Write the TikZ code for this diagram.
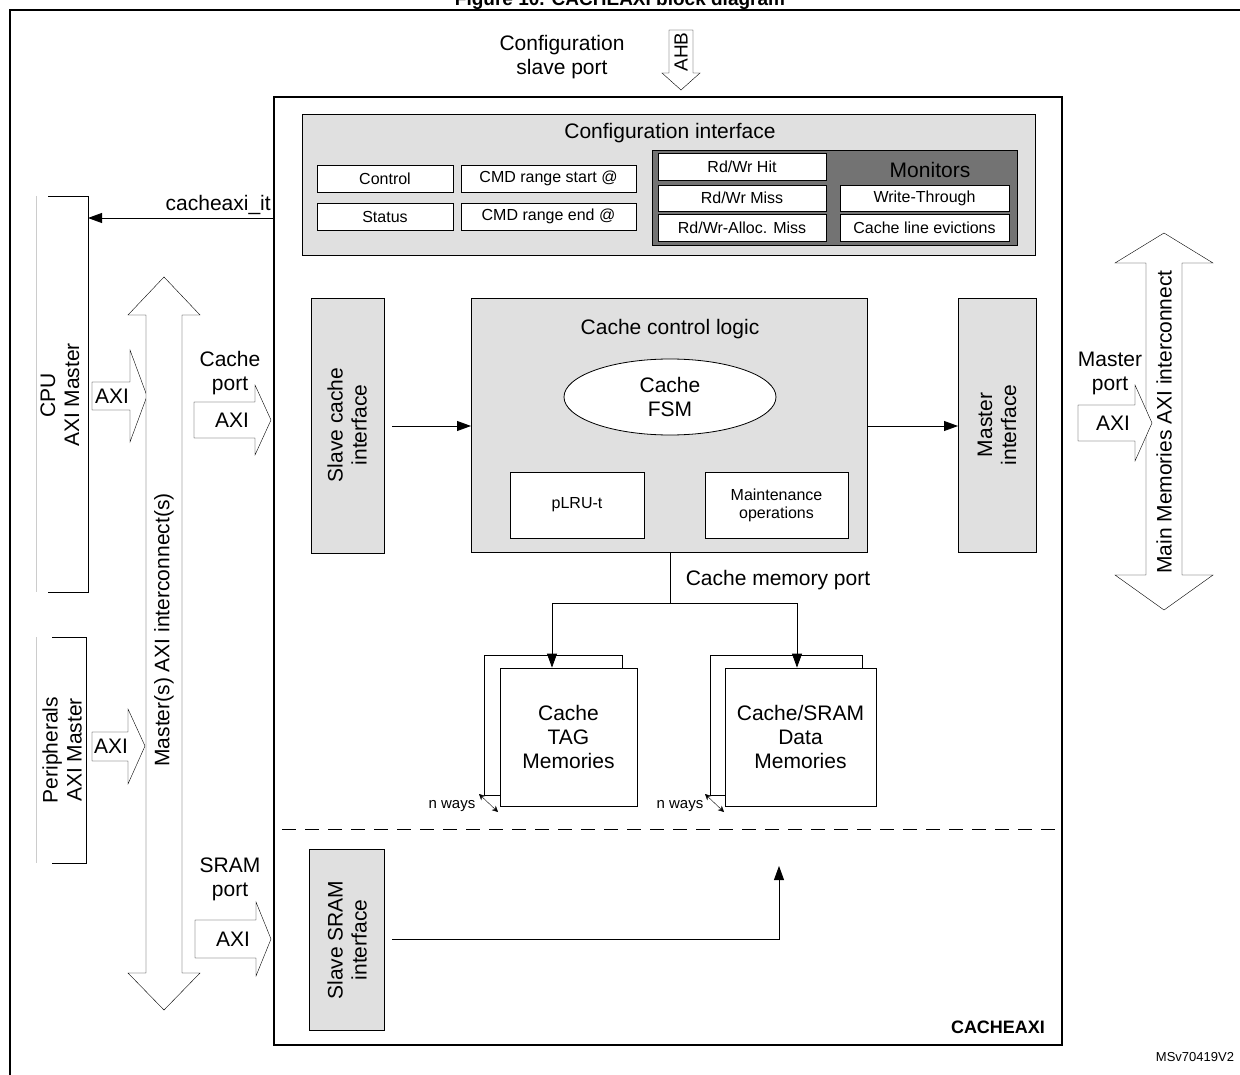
\documentclass[tikz,border=0pt]{standalone}
\usepackage{fontspec}
\setmainfont{Liberation Sans}
\usetikzlibrary{shapes.geometric,shapes.arrows,arrows.meta}
\begin{document}
\begin{tikzpicture}[x=1pt,y=-1pt,
  big/.style={font=\fontsize{21}{24}\selectfont},
  small/.style={font=\fontsize{16}{18}\selectfont},
  gbox/.style={draw,thick,fill=black!12},
  wbox/.style={draw,thick,fill=white,small,inner sep=1pt},
  bus/.style={draw,fill=white},
  arr/.style={-{Triangle[length=14pt,width=10pt]},thick}]
\useasboundingbox (0,0) rectangle (1240,1075);
\clip (0,0) rectangle (1240,1075);
\node[font=\bfseries\fontsize{19}{22}\selectfont] (title) at (620,1) {Figure 10. CACHEAXI block diagram};
\draw[line width=2pt] (10,1090) -- (10,10) -- (1250,10);
% AHB
\draw[bus] (669,30) -- (693,30) -- (693,73) -- (700,73) -- (681,90) -- (662,73) -- (669,73) -- cycle;
\node[rotate=90,font=\fontsize{19}{22}\selectfont] (ahb) at (681,52) {AHB};
\node[big,align=center] (cfgl) at (562,57) {Configuration\\slave port};
% main box
\draw[line width=2pt] (274,97) rectangle (1062,1045);
\node[font=\bfseries\fontsize{18}{20}\selectfont] (cax) at (998,1027) {CACHEAXI};
\draw[gbox] (302,114) rectangle (1035,255);
\node[big] (cfgi) at (670,133) {Configuration interface};
\node[wbox,minimum width=136,minimum height=27] (ctl) at (385,178.5) {Control};
\node[wbox,minimum width=136,minimum height=27] (sts) at (385,216.5) {Status};
\node[wbox,minimum width=175,minimum height=27] (cs) at (548.5,178.5) {CMD range start @};
\node[wbox,minimum width=175,minimum height=27] (ce) at (548.5,216.5) {CMD range end @};
\draw[thick,fill=black!55] (652,150) rectangle (1017,245);
\node[wbox,minimum width=168,minimum height=27] (hit) at (742,167) {Rd/Wr Hit};
\node[wbox,minimum width=168,minimum height=26] (miss) at (742,198) {Rd/Wr Miss};
\node[wbox,minimum width=168,minimum height=27] (am) at (742,228) {Rd/Wr-Alloc. Miss};
\node[big] (mon) at (930,170) {Monitors};
\node[wbox,minimum width=169,minimum height=26] (wt) at (924.5,198) {Write-Through};
\node[wbox,minimum width=169,minimum height=27] (ev) at (924.5,228) {Cache line evictions};
% cacheaxi_it
\coordinate (itS) at (274,218);
\coordinate (itE) at (88,218);
\draw[arr] (itS) -- (itE) node[pos=0.3,above,big] {cacheaxi\_it};
% CPU bracket
\draw[gray!40] (36,196) -- (36,592);
\draw[thick] (48,196) -- (88,196) -- (88,592) -- (48,592);
\node[rotate=90,big,align=center] (cpu) at (60,395) {CPU\\AXI Master};
\draw[gray!40] (36,637) -- (36,863);
\draw[thick] (52,637) -- (86,637) -- (86,863) -- (52,863);
\node[rotate=90,big,align=center] (per) at (62,750) {Peripherals\\AXI Master};
% small AXI arrows
\draw[bus] (92,382) -- (130,382) -- (130,350) -- (147,396) -- (130,442) -- (130,410) -- (92,410) -- cycle;
\node[big] (a1) at (112,396) {AXI};
\draw[bus] (92,732) -- (128,732) -- (128,709) -- (145,746) -- (128,784) -- (128,761) -- (92,761) -- cycle;
\node[big] (a2) at (111,746) {AXI};
% Masters bus
\draw[bus] (164,277) -- (200,315) -- (182,315) -- (182,973) -- (200,973) -- (164,1010) -- (128,973) -- (146,973) -- (146,315) -- (128,315) -- cycle;
\node[rotate=90,big] (mbus) at (164,630) {Master(s) AXI interconnect(s)};
% cache port
\node[big,align=center] (cpl) at (230,373) {Cache\\port};
\draw[bus] (194,402) -- (255,402) -- (255,385) -- (271,420) -- (255,455) -- (255,438) -- (194,438) -- cycle;
\node[big] (a3) at (232,420) {AXI};
\node[big,align=center] (spl) at (230,879) {SRAM\\port};
\draw[bus] (195,920) -- (256,920) -- (256,902) -- (271,939) -- (256,976) -- (256,958) -- (195,958) -- cycle;
\node[big] (a4) at (233,939) {AXI};
% inner blocks
\draw[gbox] (311,298) rectangle (384,553);
\node[rotate=90,big,align=center] (sci) at (347,425) {Slave cache\\interface};
\draw[gbox] (471,298) rectangle (867,552);
\node[big] (ccl) at (670,329) {Cache control logic};
\node[draw,thick,fill=white,ellipse,minimum width=212,minimum height=76,big,align=center] (fsm) at (670,397) {Cache\\FSM};
\node[wbox,minimum width=134,minimum height=66] (plru) at (577,505) {pLRU-t};
\node[wbox,minimum width=143,minimum height=66,align=center] (mnt) at (776.5,505) {Maintenance\\operations};
\draw[gbox] (958,298) rectangle (1036,552);
\node[rotate=90,big,align=center] (mi) at (997,425) {Master\\interface};
\coordinate (s1) at (392,426); \coordinate (e1) at (471,426);
\coordinate (s2) at (867,426); \coordinate (e2) at (958,426);
\draw[arr] (s1) -- (e1);
\draw[arr] (s2) -- (e2);
% memory port
\coordinate (mp0) at (670,552); \coordinate (mp1) at (670,603);
\coordinate (mpl) at (552,603); \coordinate (mpr) at (797,603);
\draw[thick] (mp0) -- (mp1);
\draw[thick] (mpl) -- (mpr);
\node[big] (mpt) at (778,580) {Cache memory port};
\draw[thick,fill=white] (484,655) rectangle (622,795);
\node[draw,thick,fill=white,minimum width=137,minimum height=138,big,align=center] (tag) at (568.5,737) {Cache\\TAG\\Memories};
\draw[thick,fill=white] (710,655) rectangle (862,795);
\node[draw,thick,fill=white,minimum width=151,minimum height=138,big,align=center] (dat) at (800.5,737) {Cache/SRAM\\Data\\Memories};
\draw[arr] (mpl) -- (tag.north -| mpl);
\draw[arr] (mpr) -- (dat.north -| mpr);
\node[font=\fontsize{15}{17}\selectfont] (nw1) at (452,806) {n ways};
\node[font=\fontsize{15}{17}\selectfont] (nw2) at (680,806) {n ways};
\draw[{Stealth[length=6pt,width=6pt]}-{Stealth[length=6pt,width=6pt]}] (479,794) -- (498,812);
\draw[{Stealth[length=6pt,width=6pt]}-{Stealth[length=6pt,width=6pt]}] (705,794) -- (724,812);
\draw[thick,dash pattern=on 14pt off 9pt] (282,829) -- (1060,829);
\draw[gbox] (309,849) rectangle (384,1030);
\node[rotate=90,big,align=center] (ssi) at (347,940) {Slave SRAM\\interface};
\coordinate (q0) at (392,939); \coordinate (q1) at (779,939); \coordinate (q2) at (779,866);
\draw[arr] (q0) -- (q1) -- (q2);
% right bus
\draw[bus] (1164,233) -- (1213,263) -- (1182,263) -- (1182,575) -- (1213,575) -- (1164,610) -- (1115,575) -- (1146,575) -- (1146,263) -- (1115,263) -- cycle;
\node[rotate=90,big] (rbus) at (1164,422) {Main Memories AXI interconnect};
\node[big,align=center] (mpl2) at (1110,373) {Master\\port};
\draw[bus] (1078,405) -- (1135,405) -- (1135,385) -- (1152,423) -- (1135,461) -- (1135,441) -- (1078,441) -- cycle;
\node[big] (a5) at (1113,423) {AXI};
\node[font=\fontsize{13}{15}\selectfont] (ms) at (1195,1057) {MSv70419V2};
\end{tikzpicture}
\end{document}
